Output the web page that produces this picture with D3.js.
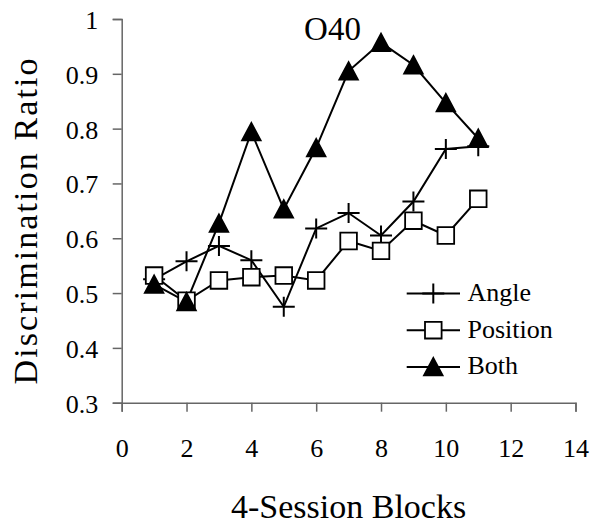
<!DOCTYPE html>
<html><head><meta charset="utf-8">
<script src="https://cdn.jsdelivr.net/npm/d3@7"></script>
<style>body{margin:0;background:#fff}svg{display:block}svg text{font-family:'Liberation Serif';fill:#000}</style>
</head><body><svg id="c" width="593" height="527"></svg>
<script>
const blocks = [1,2,3,4,5,6,7,8,9,10,11];
const angle = [0.525,0.558,0.586,0.560,0.475,0.618,0.646,0.605,0.667,0.763,0.768];
const position = [0.532,0.486,0.523,0.529,0.532,0.523,0.595,0.577,0.632,0.605,0.672];
const both = [0.516,0.484,0.627,0.794,0.653,0.765,0.905,0.957,0.916,0.847,0.782];
const xTicks = [0,2,4,6,8,10,12,14];
const yTicks = [0.3,0.4,0.5,0.6,0.7,0.8,0.9,1];
const seriesNames = ["Angle","Position","Both"];
const title = "O40";

const FONT = "'Liberation Serif'";
const svg = d3.select("#c");
const x = d3.scaleLinear().domain([0,14]).range([121.7,575.5]);
const y = d3.scaleLinear().domain([0.3,1]).range([402.7,19]);

const axisColor = "#666";
const xa = svg.append("g").attr("transform",`translate(0,${y(0.3)})`)
  .call(d3.axisBottom(x).tickValues(xTicks).tickSize(9).tickFormat(d3.format("d")));
const ya = svg.append("g").attr("transform",`translate(${x(0)},0)`)
  .call(d3.axisLeft(y).tickValues(yTicks).tickSize(9).tickPadding(14.5).tickFormat(d=>d===1?"1":d3.format(".1f")(d)));
[xa,ya].forEach(a=>{
  a.attr("font-family",FONT).attr("font-size",26);
  a.selectAll("path").attr("stroke",axisColor).attr("stroke-width",1.5);
  a.selectAll("line").attr("stroke",axisColor).attr("stroke-width",1.5);
  a.selectAll("text").attr("font-family",FONT).style("font-size","26px").attr("fill","#000");
});
xa.selectAll("text").attr("y",54.8).attr("dy",0);
ya.selectAll("text").attr("dy","0.36em");

const symPlus = {draw(ctx){ctx.moveTo(-11,0);ctx.lineTo(11,0);ctx.moveTo(0,-10);ctx.lineTo(0,10);}};
const symSquare = {draw(ctx){ctx.rect(-8.3,-8.3,16.6,16.6);}};
const symTri = {draw(ctx){ctx.moveTo(0,-9);ctx.lineTo(9.3,8.5);ctx.lineTo(-9.3,8.5);ctx.closePath();}};

const series = [
  {name:seriesNames[0], vals:angle, sym:symPlus, fill:"none"},
  {name:seriesNames[1], vals:position, sym:symSquare, fill:"#fff"},
  {name:seriesNames[2], vals:both, sym:symTri, fill:"#000"}
];
const line = d3.line().x(d=>x(d[0])).y(d=>y(d[1]));
series.forEach(s=>{
  const pts = blocks.map((b,i)=>[b,s.vals[i]]);
  svg.append("path").attr("d",line(pts)).attr("fill","none").attr("stroke","#000").attr("stroke-width",2);
});
series.forEach(s=>{
  const pts = blocks.map((b,i)=>[b,s.vals[i]]);
  svg.append("g").selectAll("path").data(pts).join("path")
    .attr("transform",d=>`translate(${x(d[0])},${y(d[1])})`)
    .attr("d",d3.symbol().type(s.sym)())
    .attr("fill",s.fill).attr("stroke","#000").attr("stroke-width",s.sym===symPlus?2:1.8);
});

// legend
const lg = svg.append("g");
series.forEach((s,i)=>{
  const ly = 293.5 + i*36.7;
  lg.append("line").attr("x1",406.7).attr("x2",460).attr("y1",ly).attr("y2",ly).attr("stroke","#000").attr("stroke-width",2);
  lg.append("path").attr("transform",`translate(433.3,${ly})`).attr("d",d3.symbol().type(s.sym)())
    .attr("fill",s.fill).attr("stroke","#000").attr("stroke-width",s.sym===symPlus?2:1.8);
  lg.append("text").attr("x",467.5).attr("y",ly+7.5).attr("font-family",FONT).style("font-size","26px").text(s.name);
});

svg.append("text").attr("x",332.5).attr("y",40).attr("text-anchor","middle").attr("font-family",FONT).style("font-size","33px").text(title);
svg.append("text").attr("x",348.6).attr("y",518).attr("text-anchor","middle").attr("font-family",FONT).style("font-size","34px").text("4-Session Blocks");
svg.append("text").attr("transform","translate(37,221.5) rotate(-90)").attr("text-anchor","middle").attr("font-family",FONT)
  .style("font-size","34px").attr("textLength",326).attr("lengthAdjust","spacing").text("Discrimination Ratio");
</script></body></html>
